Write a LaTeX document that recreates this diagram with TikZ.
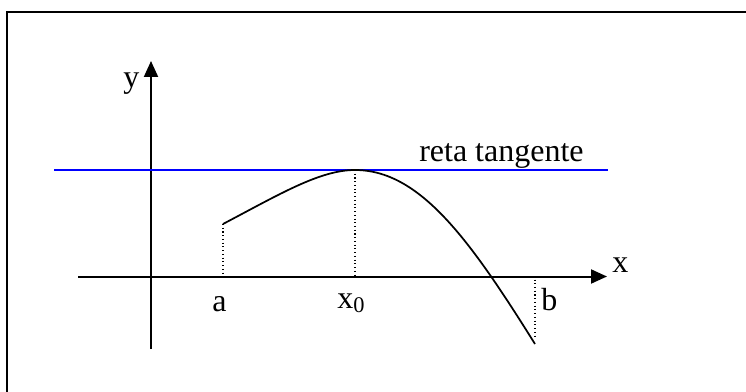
\documentclass[tikz,border=0pt]{standalone}
\usepackage{fontspec}
\setmainfont{Liberation Serif}
\usetikzlibrary{arrows.meta}

\tikzset{
  axis/.style={line width=1.5pt,-{Triangle[length=12pt,width=10.5pt]}},
  guide/.style={line width=0.8pt,dotted},
  lbl/.style={anchor=base west,inner sep=0pt,font=\fontsize{24}{28}\selectfont}
}

\begin{document}
\begin{tikzpicture}[x=0.75pt,y=-0.75pt]
  \useasboundingbox (0,0) rectangle (746,392);
  \draw[line width=1.5pt] (7,392) -- (7,12) -- (746,12);
  % axes
  \coordinate (O) at (151,276.5);
  \draw[axis] (78,276.5) -- (607,276.5) coordinate (xend);
  \draw[axis] (151,349) -- (151,61) coordinate (yend);
  \node[lbl] (ylbl) at (123,88) {y};
  \node[lbl] (xlbl) at (612,272.7) {x};
  % tangent line
  \coordinate (tl) at (54,170);
  \coordinate (tr) at (608,170);
  \draw[blue,line width=1.5pt] (tl) -- (tr);
  \node[lbl] (tang) at (419,162) {reta tangente};
  % curve
  \coordinate (A) at (223,224);
  \coordinate (P) at (355,170);
  \coordinate (B) at (535,344);
  \draw[line width=1.3pt] (A) .. controls (280,194) and (320,170) .. (P)
    .. controls (420,170) and (470,240) .. (B);
  \draw[guide] (A) -- (A |- O);
  \draw[guide] (P) -- (P |- O);
  \draw[guide] (B |- O) ++(0,3) -- ([yshift=4pt]B);
  \node[lbl] (alb) at (212,311.7) {a};
  \node[lbl] (x0lb) at (337,308) {x\textsubscript{0}};
  \node[lbl] (blb) at (541,310.7) {b};
\end{tikzpicture}
\end{document}
